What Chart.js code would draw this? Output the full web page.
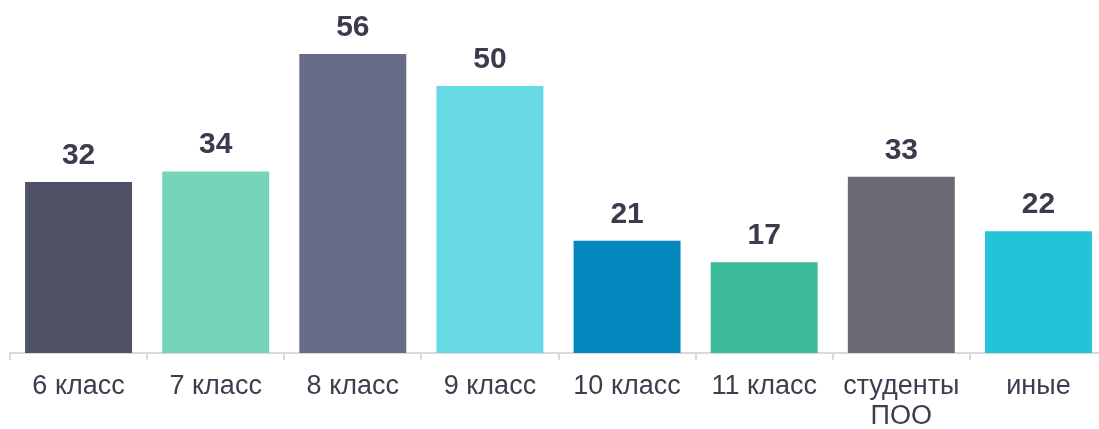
<!DOCTYPE html>
<html>
<head>
<meta charset="utf-8">
<script src="https://cdn.jsdelivr.net/npm/chart.js@4.4.1/dist/chart.umd.min.js"></script>
<style>
  html, body { margin: 0; padding: 0; background: #ffffff; overflow: hidden; }
  #wrap { position: relative; width: 1107px; height: 429px; }
</style>
</head>
<body>
<div id="wrap"><canvas id="c" width="1107" height="429"></canvas></div>
<script>
const categories = ["6 класс", "7 класс", "8 класс", "9 класс", "10 класс", "11 класс", ["студенты", "ПОО"], "иные"];
const values = [32, 34, 56, 50, 21, 17, 33, 22.8];
const valueTexts = ["32", "34", "56", "50", "21", "17", "33", "22"];
const barColors = ["#4F5266", "#76D4B9", "#686C88", "#67D9E4", "#0288BC", "#3DBA98", "#6C6874", "#24C4D8"];

const valueLabels = {
  id: 'valueLabels',
  afterDatasetsDraw(chart) {
    const ctx = chart.ctx;
    const meta = chart.getDatasetMeta(0);
    ctx.save();
    ctx.font = 'bold 30px "Liberation Sans", Arial, sans-serif';
    ctx.fillStyle = '#3A3B4C';
    ctx.textAlign = 'center';
    ctx.textBaseline = 'alphabetic';
    meta.data.forEach((bar, i) => {
      ctx.fillText(valueTexts[i], bar.x, bar.y - 18);
    });
    ctx.restore();
  }
};

new Chart(document.getElementById('c'), {
  type: 'bar',
  data: {
    labels: categories,
    datasets: [{
      data: values,
      backgroundColor: barColors,
      borderWidth: 0,
      barPercentage: 0.78,
      categoryPercentage: 1.0
    }]
  },
  options: {
    responsive: false,
    animation: false,
    layout: { padding: { left: 10, right: 0, top: 0, bottom: 0 } },
    plugins: { legend: { display: false }, tooltip: { enabled: false } },
    scales: {
      x: {
        grid: { display: true, drawOnChartArea: false, drawTicks: true, tickLength: 7, color: '#D9D9D9', lineWidth: 2, offset: true },
        border: { display: true, color: '#D9D9D9', width: 2 },
        ticks: {
          color: '#3C3D4D',
          font: { family: '"Liberation Sans", Arial, sans-serif', size: 27, lineHeight: 1.11 },
          padding: 12,
          maxRotation: 0,
          autoSkip: false
        },
        afterFit(scale) { scale.height = 76; }
      },
      y: {
        display: false,
        min: 0,
        max: 66.1
      }
    }
  },
  plugins: [valueLabels]
});
</script>
</body>
</html>
